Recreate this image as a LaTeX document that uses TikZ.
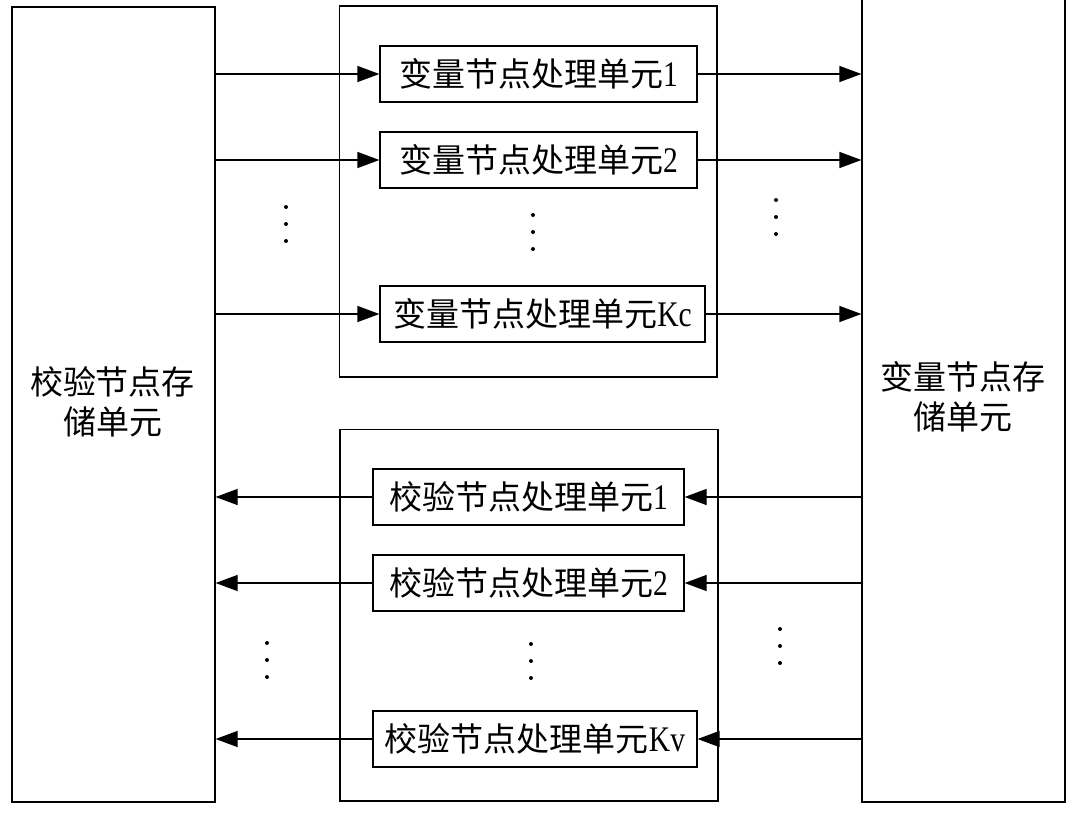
\documentclass[tikz,border=0pt]{standalone}
\usepackage{fontspec}
\setmainfont{Liberation Serif}[FakeStretch=0.82]
\newfontfamily\cjkzh{Noto Sans CJK SC}
\newcommand\zhtxt[1]{{\cjkzh\fontsize{33}{40}\selectfont #1}}
\usetikzlibrary{arrows.meta}
\begin{document}
\begin{tikzpicture}[x=1pt,y=-1pt,
  line width=1.2pt,
  box/.style={draw, inner sep=0pt},
  unitbox/.style={draw, inner sep=0pt, minimum height=56pt,
    font=\fontsize{36}{40}\selectfont},
  storetext/.style={align=center, inner sep=0pt,
    font=\fontsize{33}{40}\selectfont},
  arr/.style={-{Triangle[length=22pt,width=16pt]}},
  dot/.style={circle, fill=black, inner sep=0pt, minimum size=4pt}]
\useasboundingbox (0,0) rectangle (1079,819);
% storage units
\node[box, minimum width=203pt, minimum height=795pt] (cs) at (113.5,404.5) {};
\node[box, minimum width=203pt, minimum height=806pt] (vs) at (963.5,399) {};
\node[storetext] (cst) at (112.5,402) {\zhtxt{校验节点存}\\\zhtxt{储单元}};
\node[storetext] (vst) at (962.5,397) {\zhtxt{变量节点存}\\\zhtxt{储单元}};
% frames
\node[box, minimum width=377.5pt, minimum height=371pt] (uf) at (528.25,191.5) {};
\node[box, minimum width=378pt, minimum height=371.5pt] (lf) at (529,615.25) {};
% variable node units
\node[unitbox, minimum width=317pt] (v1) at (538.5,74) {\zhtxt{变量节点处理单元}1};
\node[unitbox, minimum width=317pt] (v2) at (538.5,160) {\zhtxt{变量节点处理单元}2};
\node[unitbox, minimum width=325pt] (vk) at (542.5,314) {\zhtxt{变量节点处理单元}Kc};
% check node units
\node[unitbox, minimum width=311pt] (c1) at (528.5,497) {\zhtxt{校验节点处理单元}1};
\node[unitbox, minimum width=311pt] (c2) at (528.5,583) {\zhtxt{校验节点处理单元}2};
\node[unitbox, minimum width=324pt] (ck) at (535,739) {\zhtxt{校验节点处理单元}Kv};
% arrows
\foreach \n in {v1,v2,vk}{
  \draw[arr] (cs.east |- \n) -- (\n.west);
  \draw[arr] (\n.east) -- (vs.west |- \n);
}
\foreach \n in {c1,c2,ck}{
  \draw[arr] (\n.west) -- (cs.east |- \n);
  \draw[arr] (vs.west |- \n) -- (\n.east);
}
% dots
\foreach \x/\y in {286/207, 533/215, 776/200, 267/643, 531/644, 780/629}{
  \node[dot] at (\x,\y) {};
  \node[dot] at (\x,\y+17) {};
  \node[dot] at (\x,\y+34) {};
}
\end{tikzpicture}
\end{document}
